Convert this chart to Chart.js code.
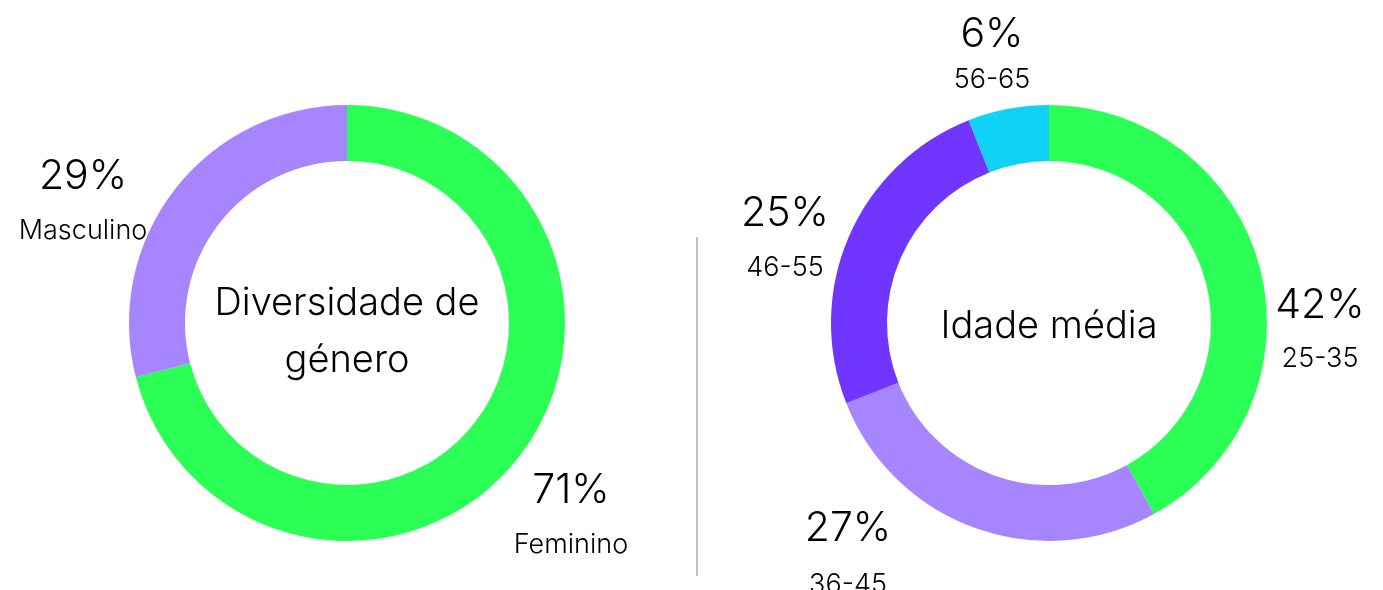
<!DOCTYPE html>
<html>
<head>
<meta charset="utf-8">
<script src="https://cdn.jsdelivr.net/npm/chart.js@4/dist/chart.umd.min.js"></script>
<style>
  html, body { margin: 0; padding: 0; background: #fff; }
  #wrap { position: relative; width: 1383px; height: 590px; overflow: hidden; }
  #genderChart { position: absolute; left: 0; top: 0; }
  #ageChart { position: absolute; left: 697px; top: 0; }
  .divider { position: absolute; left: 696px; top: 237px; width: 2px; height: 339px; background: #b9c5c3; }
</style>
</head>
<body>
<div id="wrap">
  <canvas id="genderChart" width="697" height="590"></canvas>
  <div class="divider"></div>
  <canvas id="ageChart" width="686" height="590"></canvas>
</div>
<script>
// Chart data
const genderLabels = ['Feminino', 'Masculino'];
const genderValues = [71, 29];
const genderTitle = ['Diversidade de', 'género'];

const ageLabels = ['25-35', '36-45', '46-55', '56-65'];
const ageValues = [42, 27, 25, 6];
const ageTitle = ['Idade média'];

const GREEN = '#2bff55';
const LAVENDER = '#a685fe';
const PURPLE = '#7035ff';
const CYAN = '#10d1f6';

const FONT = 'Inter, "Liberation Sans", Arial, sans-serif';

// Draws the centre title and the outer labels of each ring
const ringLabels = {
  id: 'ringLabels',
  afterDraw(chart, args, opts) {
    const arc = chart.getDatasetMeta(0).data[0];
    if (!arc) return;
    const cx = arc.x;
    const cy = arc.y;
    const ctx = chart.ctx;
    const values = chart.data.datasets[0].data;
    const labels = chart.data.labels;

    ctx.save();
    ctx.fillStyle = '#000';
    ctx.textAlign = 'center';
    ctx.textBaseline = 'alphabetic';

    // centre title
    ctx.font = '300 38px ' + FONT;
    opts.title.forEach((line, i) => {
      ctx.fillText(line, cx, cy + opts.titleTop + i * opts.titleGap);
    });

    // outer labels
    opts.offsets.forEach((o, i) => {
      ctx.font = '300 41px ' + FONT;
      ctx.fillText(values[i] + '%', cx + o.dx, cy + o.dy);
      ctx.font = '300 27px ' + FONT;
      ctx.fillText(labels[i], cx + o.dx, cy + o.dy + o.gap);
    });
    ctx.restore();
  }
};

function makeRing(id, labels, values, colors, padding, plugOpts) {
  return new Chart(document.getElementById(id), {
    type: 'doughnut',
    data: {
      labels: labels,
      datasets: [{
        data: values,
        backgroundColor: colors,
        borderWidth: 0
      }]
    },
    options: {
      responsive: false,
      animation: false,
      cutout: '74.3%',
      layout: { padding: padding },
      plugins: {
        legend: { display: false },
        tooltip: { enabled: false },
        ringLabels: plugOpts
      }
    },
    plugins: [ringLabels]
  });
}

makeRing('genderChart', genderLabels, genderValues, [GREEN, LAVENDER],
  { left: 129, right: 132, top: 105, bottom: 49 },
  {
    title: genderTitle,
    titleTop: -8,
    titleGap: 57,
    offsets: [
      { dx: 224, dy: 180, gap: 50 },
      { dx: -264, dy: -134, gap: 50 }
    ]
  });

makeRing('ageChart', ageLabels, ageValues, [GREEN, LAVENDER, PURPLE, CYAN],
  { left: 134, right: 116, top: 105, bottom: 49 },
  {
    title: ageTitle,
    titleTop: 15,
    titleGap: 0,
    offsets: [
      { dx: 271, dy: -5, gap: 49 },
      { dx: -201, dy: 218, gap: 52 },
      { dx: -264, dy: -97, gap: 50 },
      { dx: -57, dy: -276, gap: 41 }
    ]
  });
</script>
</body>
</html>
